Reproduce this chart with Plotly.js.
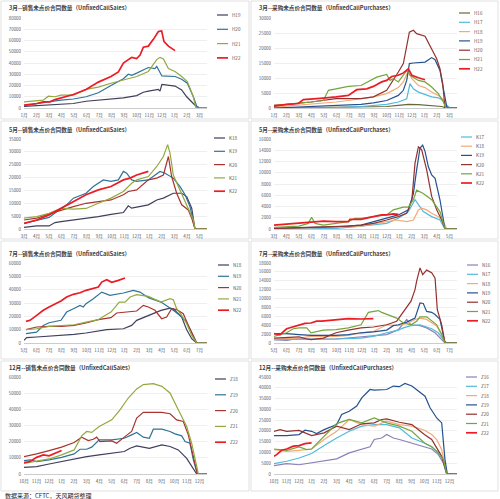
<!DOCTYPE html>
<html><head><meta charset="utf-8">
<script src="https://cdn.plot.ly/plotly-3.0.1.min.js"></script>
<style>html,body{margin:0;padding:0;background:#fff}#chart{width:500px;height:499px}</style>
</head><body><div id="chart"></div>
<script>
// ---------- tick labels ----------
const monthsH = ['1月','2月','3月','4月','5月','6月','7月','8月','9月','10月','11月','12月','1月','2月','3月'];
const monthsK = ['3月','4月','5月','6月','7月','8月','9月','10月','11月','12月','1月','2月','3月','4月','5月'];
const monthsN = ['5月','6月','7月','8月','9月','10月','11月','12月','1月','2月','3月','4月','5月','6月','7月'];
const monthsZ = ['10月','11月','12月','1月','2月','3月','4月','5月','6月','7月','8月','9月','10月','11月','12月'];

// ---------- titles ----------
const titles = [
 '3月--销售未点价合同数量（UnfixedCallSales）','3月--采购未点价合同数量（UnfixedCallPurchases）',
 '5月--销售未点价合同数量（UnfixedCallSales）','5月--采购未点价合同数量（UnfixedCallPurchases）',
 '7月--销售未点价合同数量（UnfixedCallSales）','7月--采购未点价合同数量（UnfixedCallPurchases）',
 '12月--销售未点价合同数量（UnfixedCallSales）','12月--采购未点价合同数量（UnfixedCallPurchases）'];
const sourceText = '数据来源：CFTC，天风期货整理';

// ---------- data: [month index, contracts] ----------
// 3月 sales
const salesH19 = [[0,1500],[1.01,2000],[2,2500],[2.95,3000],[3.94,4000],[4.95,6000],[5.93,7000],[6.94,7500],[7.93,9000],[8.99,11000],[9.52,14000],[9.92,15000],[10.72,16500],[10.85,15000],[11,21000],[12.05,19500],[12.58,16000],[12.98,10000],[13.38,5000],[13.78,1000],[14.04,0],[14.6,0]];
const salesH20 = [[0,2000],[1.01,4000],[1.94,5500],[2.95,7000],[3.94,8000],[4.95,10000],[5.93,13500],[6.94,20000],[7.93,26000],[8.32,30000],[8.59,29000],[8.99,31000],[9.52,34000],[9.92,36000],[10.45,35000],[10.59,37000],[11,28500],[12.05,28000],[12.58,25500],[13.03,22000],[13.51,10000],[13.78,1500],[14.04,0],[14.6,0]];
const salesH21 = [[0,5500],[1.01,6500],[1.54,7000],[1.94,10500],[2.47,10000],[2.95,11500],[3.94,11500],[4.95,16500],[5.93,18500],[6.94,22000],[7.93,25000],[8.99,28000],[9.92,32500],[10.59,43000],[10.85,45000],[11.12,43500],[11.52,35000],[12.05,32500],[12.58,28000],[13.03,23500],[13.51,10000],[13.72,0],[14.6,0]];
const salesH22 = [[0,2500],[1.01,4000],[1.54,5500],[2.07,5500],[2.47,7500],[3,9000],[3.94,12000],[4.95,16500],[5.93,23000],[6.94,28000],[7.53,32000],[7.93,40000],[8.59,45000],[8.99,44000],[9.26,47000],[9.52,54000],[9.92,55000],[10.32,61000],[10.72,68000],[10.98,68500],[11.17,59000],[11.52,55000],[12.05,51000]];
// 3月 purchases
const purH16 = [[0,0],[7.93,300],[8.99,500],[9.92,900],[10.72,1200],[11.52,1100],[12.58,900],[13.38,500],[13.78,0],[14.6,0]];
const purH17 = [[0,0],[4.95,100],[6.94,500],[8.99,1200],[9.92,2000],[10.59,3100],[10.85,8100],[11.12,6400],[11.52,5300],[12.05,4400],[12.58,3700],[13.11,3400],[13.51,2500],[13.78,900],[14.04,0],[14.6,0]];
const purH18 = [[0,300],[2.95,1200],[4.95,2000],[5.93,2500],[6.94,3100],[7.93,3700],[8.99,4800],[9.92,6800],[10.32,8700],[10.72,12500],[11,9800],[11.52,7500],[12.05,6800],[12.58,5300],[13.11,4200],[13.51,2800],[13.78,0],[14.6,0]];
const purH19 = [[0,0],[2.95,500],[4.95,900],[6.94,1200],[7.93,1700],[8.99,2500],[9.92,4200],[10.32,5900],[10.59,9200],[10.8,14800],[11.12,15000],[12.05,15300],[12.58,16800],[12.85,16100],[13.24,12500],[13.51,7000],[13.78,500],[13.91,0],[14.6,0]];
const purH20 = [[0,500],[1.01,1200],[2.95,2000],[4.95,3100],[6.94,3100],[7.93,3700],[8.99,5900],[9.52,9200],[9.92,12000],[10.32,14800],[10.59,21400],[10.8,25300],[11.12,25900],[11.38,24800],[12.05,23900],[12.58,19800],[12.98,16400],[13.24,13100],[13.46,8100],[13.64,0],[14.6,0]];
const purH21 = [[0,900],[1.01,1200],[2.95,2000],[3.94,2500],[4.34,5900],[4.95,6400],[5.93,7200],[6.94,7500],[7.66,9200],[8.19,10300],[8.99,11200],[9.26,9200],[9.52,9800],[9.92,8700],[10.59,12500],[10.85,10900],[11.52,9200],[12.05,8700],[12.58,7000],[13.11,4800],[13.51,2000],[13.72,0],[14.6,0]];
const purH22 = [[0,800],[1.01,1200],[1.94,1500],[2.34,2800],[2.95,2900],[3.94,3300],[4.95,3700],[5.93,4200],[6.6,6100],[7.39,6400],[7.93,7200],[8.59,8700],[8.99,9200],[9.39,10500],[9.92,10900],[10.32,11700],[10.72,13100],[11,10900],[11.52,10100],[12.05,9400]];
// 5月 sales
const salesK18 = [[0,650],[1.01,1200],[2,1200],[2.47,2500],[2.95,2900],[3.94,3500],[4.95,4200],[5.93,4800],[6.94,5700],[7.93,6400],[8.32,9000],[8.59,8100],[8.99,8500],[9.92,9400],[10.59,11300],[11.12,12000],[11.91,13900],[12.58,13900],[12.98,12600],[13.38,8100],[13.64,0],[14.6,0]];
const salesK19 = [[0,2200],[1.01,3500],[2,4500],[2.95,8000],[3.4,9400],[3.94,12000],[4.95,13900],[5.53,16500],[5.93,17800],[6.33,19100],[6.94,18500],[7.53,19100],[7.93,22400],[8.19,21700],[8.59,19100],[8.99,18500],[9.92,19100],[10.85,22400],[11.25,21700],[11.91,19800],[12.45,16500],[12.85,13300],[13.24,8700],[13.51,3500],[13.64,0],[14.6,0]];
const salesK20 = [[0,3500],[1.01,4200],[2,5900],[2.95,7400],[3.94,8700],[4.95,10000],[5.93,10700],[6.94,11300],[7.93,13300],[8.32,14600],[8.99,15200],[9.92,19100],[10.59,19800],[11.12,21000],[11.52,28200],[11.78,20400],[12.18,13900],[12.58,9400],[13.11,7400],[13.38,4200],[13.64,0],[14.6,0]];
const salesK21 = [[0,4200],[1.01,4800],[2,6100],[2.95,8000],[3.94,7700],[4.95,8000],[5.93,10000],[6.94,12000],[7.93,14600],[8.59,17800],[8.99,19100],[9.92,20400],[10.59,24300],[11.12,28200],[11.46,32800],[11.65,29500],[11.91,21000],[12.45,15200],[12.98,9400],[13.51,3500],[13.64,0],[14.6,0]];
const salesK22 = [[0,2200],[1.01,3500],[2,5500],[2.95,8000],[3.94,10700],[4.95,13300],[5.93,15200],[6.94,16500],[7.93,19100],[8.46,19800],[8.99,21000],[9.52,21700],[9.92,22400]];
// 5月 purchases
const purK17 = [[0,0],[4.95,100],[6.94,500],[8.99,1000],[9.92,1900],[10.72,3100],[11.25,5200],[11.52,4300],[11.91,3100],[12.58,2200],[13.24,1600],[13.64,0],[14.6,0]];
const purK18 = [[0,0],[4.95,400],[6.94,500],[7.93,900],[8.99,1300],[9.79,1600],[10.59,1300],[11.12,1600],[11.52,3400],[11.78,3700],[12.18,3400],[12.58,2800],[13.11,2200],[13.51,1300],[13.78,0],[14.6,0]];
const purK19 = [[0,100],[4.95,400],[6.94,700],[7.93,1300],[8.99,1900],[9.92,2500],[10.72,3400],[11.12,6300],[11.38,10500],[11.65,14400],[11.86,14900],[12.05,13800],[12.31,11100],[12.58,9600],[12.85,9000],[13.24,5200],[13.64,0],[14.6,0]];
const purK20 = [[0,100],[3.94,300],[5.93,500],[6.94,700],[7.93,1000],[8.99,1600],[9.92,2200],[10.59,2800],[11,5200],[11.25,11700],[11.52,14600],[11.78,14100],[12.18,10500],[12.58,5800],[12.98,3400],[13.38,1600],[13.64,0],[14.6,0]];
const purK21 = [[0,300],[2,500],[2.74,1000],[3,2100],[3.27,1000],[3.94,700],[4.95,1000],[5.93,1300],[6.46,1900],[6.94,1900],[7.93,2200],[8.99,2500],[9.52,3400],[9.92,3700],[10.32,3900],[10.72,3900],[11.12,5200],[11.38,6900],[11.91,6300],[12.58,5200],[13.24,3100],[13.64,0],[14.6,0]];
const purK22 = [[0,700],[1.01,900],[2.95,1300],[3.94,1400],[4.95,1300],[5.93,1300],[6.06,1700],[6.94,1700],[7.93,2200],[8.59,2500],[8.99,2500],[9.52,2700],[9.92,2600]];
// 7月 sales
const salesN18 = [[0,2000],[0.21,4000],[1.01,4500],[2,5000],[2.95,5700],[4,6500],[4.95,7500],[5.93,8700],[6.6,10000],[7.93,10700],[8.59,13200],[8.99,17000],[9.52,19000],[9.92,20700],[10.59,23200],[10.93,24500],[11.65,26200],[11.91,25700],[12.58,19500],[12.98,10000],[13.38,3200],[13.78,0],[14.6,0]];
const salesN19 = [[0.16,7000],[1.01,8200],[1.54,13200],[2,15200],[2.95,17000],[3.4,23200],[3.94,25700],[4.47,28200],[4.73,27000],[4.95,29500],[5.53,33200],[6.2,38200],[6.86,35700],[7.93,37500],[8.72,39500],[9.26,38200],[9.92,34000],[10.93,30700],[11.91,24500],[12.45,20700],[12.98,15700],[13.38,8200],[13.78,0],[14.6,0]];
const salesN20 = [[0.16,10000],[1.01,12000],[2,12500],[2.95,12500],[4,13200],[4.95,15000],[5.93,17500],[6.94,19000],[7.39,22500],[7.93,23200],[8.99,24000],[9.52,28200],[9.92,27000],[10.45,24500],[10.98,18200],[11.38,19500],[11.78,25700],[12.18,25000],[12.71,22000],[13.11,13200],[13.51,4500],[13.78,0],[14.6,0]];
const salesN21 = [[0.16,10000],[1.01,10700],[2,12500],[2.95,13200],[4,13700],[4.95,15700],[5.93,17500],[6.46,20700],[6.94,23200],[7.6,30700],[8.06,30700],[8.46,34500],[8.99,36200],[9.92,35000],[10.59,32000],[10.93,30700],[11.65,33200],[11.91,32500],[12.18,25700],[12.58,20700],[12.98,14500],[13.38,5700],[13.78,0],[14.6,0]];
const salesN22 = [[0.16,16200],[0.48,17000],[1.01,20700],[1.54,24500],[2,27000],[2.95,31500],[3.4,34500],[3.94,36500],[4.47,37700],[4.95,39500],[5.93,42000],[6.2,45700],[6.6,47500],[7,45500],[7.53,47000],[8.06,48700]];
// 7月 purchases
const purN16 = [[0,750],[1.01,600],[2,1100],[2.95,900],[4.95,900],[6.94,1400],[7.93,1500],[8.99,1900],[9.92,3000],[10.59,5300],[10.93,4100],[11.65,3900],[12.18,3400],[12.85,2300],[13.38,750],[13.64,0],[14.6,0]];
const purN17 = [[0,750],[2,750],[4.95,900],[6.94,1100],[7.93,1500],[8.99,2300],[9.92,2900],[10.32,3400],[10.93,3900],[11.65,4100],[12.18,3600],[12.58,3200],[13.11,2300],[13.51,750],[13.78,0],[14.6,0]];
const purN18 = [[0,900],[2,1100],[2.95,1500],[4.95,1500],[5.93,1700],[6.94,2300],[7.93,2600],[8.99,4100],[9.92,3900],[10.72,4500],[11.25,5300],[11.65,5600],[12.18,5300],[12.58,4500],[12.98,3800],[13.38,1900],[13.64,0],[14.6,0]];
const purN19 = [[0,2100],[1.01,2100],[2,1900],[2.95,1700],[4.95,1700],[5.93,1900],[6.94,2300],[7.93,2500],[8.99,2900],[9.52,3900],[9.92,4100],[10.59,4700],[11.25,5600],[11.65,9000],[11.91,8900],[12.18,7100],[12.58,6900],[12.85,6400],[13.24,5300],[13.51,1500],[13.64,0],[14.6,0]];
const purN20 = [[0,1100],[2,1400],[2.61,900],[2.95,750],[3.94,1100],[4.95,2300],[5.93,2900],[6.94,3400],[7.93,3600],[8.99,4100],[9.79,4900],[10.32,7100],[10.93,9400],[11.25,12000],[11.38,13900],[11.65,16900],[11.86,15400],[12.18,16400],[12.58,15800],[12.85,14600],[13.03,7500],[13.38,4100],[13.64,0],[14.6,0]];
const purN21 = [[0,1500],[1.01,2300],[1.54,3200],[2,3400],[2.61,3400],[2.95,2300],[3.94,2900],[4.95,3000],[5.93,3400],[6.94,4100],[7.53,6900],[8.32,7300],[8.59,6900],[9.26,6200],[9.79,5600],[10.32,4500],[10.93,4100],[11.38,4900],[11.65,5900],[12.18,5900],[12.58,4900],[12.98,4100],[13.38,1900],[13.64,0],[14.6,0]];
const purN22 = [[0,2100],[0.48,1900],[1.01,3200],[1.54,3600],[2,3900],[2.47,4400],[2.95,4500],[3.4,4900],[3.8,4900],[4.47,5100],[4.95,5300],[5.4,5500],[5.93,5500],[6.94,5400],[7.93,5500]];
// 12月 sales
const salesZ18 = [[0,4100],[1.01,4600],[2,6200],[3,7700],[4,9100],[5,10800],[6,11800],[7,12800],[8,13900],[8.46,15900],[8.99,17400],[10,15900],[11,18000],[11.65,17000],[12.31,14900],[12.98,9700],[13.38,4600],[13.78,0],[14.6,0]];
const salesZ19 = [[0,8300],[0.48,8700],[1.01,7700],[2,8700],[3,10300],[4,12400],[4.47,15300],[5,15300],[5.4,16600],[6,21100],[7,21100],[8,22100],[8.59,24200],[8.99,25700],[9.52,22800],[10,22100],[10.32,27700],[11,27700],[11.65,26300],[12.05,24800],[12.58,23600],[12.85,20100],[13.24,19000],[13.51,8700],[13.83,0],[14.6,0]];
const salesZ20 = [[0,10800],[1.01,12400],[2,14500],[3,16600],[4,19500],[4.6,22800],[5.13,20700],[5.53,21500],[5.8,22800],[6.06,20100],[7,20500],[7.39,19000],[8,22800],[8.59,26300],[8.99,34600],[9.52,38100],[10.32,38100],[11,38100],[11.65,37300],[12.18,33500],[12.71,32500],[13.11,24200],[13.51,10800],[13.83,0],[14.6,0]];
const salesZ21 = [[0,6600],[1.01,8100],[2,9300],[3,11800],[4,14900],[4.6,23600],[5,26300],[5.4,25700],[6,29400],[7,33500],[7.66,39700],[8.32,47000],[8.99,52600],[9.52,55300],[10.32,55900],[11,54200],[11.65,50100],[12.18,41800],[12.58,35600],[12.98,29400],[13.38,19000],[13.64,8700],[13.91,0],[14.6,0]];
const salesZ22 = [[0,7000],[0.48,7700],[1.01,10300],[1.54,11800],[2,11200],[2.47,12800],[3,14500]];
// 12月 purchases
const purZ16 = [[0,3900],[1.01,4800],[2,4300],[3,5100],[4,5900],[5,7000],[6,9800],[7,11300],[7.66,12600],[8,16000],[8.59,16700],[8.99,18300],[9.52,16700],[10,16000],[11,14400],[12,12600],[12.58,11600],[13.11,9000],[13.51,5100],[13.78,0],[14.6,0]];
const purZ17 = [[0,4800],[1.01,5900],[2,7400],[3,9500],[4,13200],[5,16700],[6,19800],[7,22200],[8,22900],[8.99,22900],[10,21400],[11,16700],[12,14400],[12.58,12600],[13.11,9800],[13.51,6700],[13.78,0],[14.6,0]];
const purZ18 = [[0,11300],[1.01,10500],[2,11000],[3,11600],[4,16000],[5,19800],[6,25300],[7,22900],[8,22200],[8.99,24500],[10,22900],[11,22200],[12,20300],[12.58,18300],[12.98,16000],[13.38,11300],[13.78,0],[14.6,0]];
const purZ19 = [[0,17800],[1.01,17800],[2,18300],[2.47,20300],[3,19800],[3.4,18800],[4,20600],[5,22900],[5.4,27600],[6,29100],[6.6,31500],[7,35300],[7.66,39200],[8,38900],[8.99,39200],[9.52,40800],[10,40500],[10.45,42000],[11,40800],[11.65,37700],[12.05,36100],[12.45,30700],[12.98,26000],[13.38,23700],[13.64,6700],[13.83,0],[14.6,0]];
const purZ20 = [[0,19800],[0.48,20600],[1.01,19800],[2,20200],[3,17800],[4,19100],[5,22200],[6,20600],[7,23300],[8,23700],[8.59,25300],[8.99,25600],[10,24000],[11,22900],[12,18300],[12.58,16000],[12.98,12100],[13.38,8200],[13.78,0],[14.6,0]];
const purZ21 = [[0,11600],[1.01,11000],[2,12600],[2.61,11300],[3,11600],[4,17500],[5,23400],[6,25300],[7,23700],[8,26000],[8.99,23700],[10,22200],[11,19800],[12,14400],[12.58,12600],[13.11,9800],[13.51,6700],[13.78,0],[14.6,0]];
const purZ22 = [[0,8200],[0.21,9000],[0.61,11000],[1.01,11600],[1.54,12900],[2,13200],[2.47,14100],[3,14400]];

// ---------- styles ----------
const C = {navy:'#3f3f5e', teal:'#2f7398', dred:'#a8342f', olive:'#93a93f', red:'#ec1c24',
           dolive:'#66683a', lblue:'#52b9dc', orange:'#f4a977', dblue:'#25528f', brown:'#93312f',
           green:'#72a63c', purple:'#8e80b6'};

const panels = [
 {months:monthsH, ymax:80000, dtick:10000, series:[['H19',salesH19,C.navy],['H20',salesH20,C.teal],['H21',salesH21,C.olive],['H22',salesH22,C.red]],
  box:[24,207,18,108], lg:[217,15,14.3]},
 {months:monthsH, ymax:30000, dtick:5000, series:[['H16',purH16,C.dolive],['H17',purH17,C.lblue],['H18',purH18,C.orange],['H19',purH19,C.dblue],['H20',purH20,C.brown],['H21',purH21,C.green],['H22',purH22,C.red]],
  box:[274,457,18,108], lg:[459,13,9.3]},
 {months:monthsK, ymax:35000, dtick:5000, series:[['K18',salesK18,C.navy],['K19',salesK19,C.teal],['K20',salesK20,C.dred],['K21',salesK21,C.olive],['K22',salesK22,C.red]],
  box:[24,207,139,229], lg:[214,138,13.3]},
 {months:monthsK, ymax:16000, dtick:2000, series:[['K17',purK17,C.lblue],['K18',purK18,C.orange],['K19',purK19,C.dblue],['K20',purK20,C.brown],['K21',purK21,C.green],['K22',purK22,C.red]],
  box:[274,457,139,229], lg:[461,137,9.2]},
 {months:monthsN, ymax:60000, dtick:10000, series:[['N18',salesN18,C.navy],['N19',salesN19,C.teal],['N20',salesN20,C.dred],['N21',salesN21,C.olive],['N22',salesN22,C.red]],
  box:[24,207,263,343], lg:[218,265,11.3]},
 {months:monthsN, ymax:18000, dtick:2000, series:[['N16',purN16,C.purple],['N17',purN17,C.lblue],['N18',purN18,C.orange],['N19',purN19,C.dblue],['N20',purN20,C.brown],['N21',purN21,C.green],['N22',purN22,C.red]],
  box:[274,457,263,343], lg:[467,265,9.3]},
 {months:monthsZ, ymax:60000, dtick:10000, series:[['Z18',salesZ18,C.navy],['Z19',salesZ19,C.teal],['Z20',salesZ20,C.dred],['Z21',salesZ21,C.olive],['Z22',salesZ22,C.red]],
  box:[24,207,377,474], lg:[215,379,15.8]},
 {months:monthsZ, ymax:45000, dtick:5000, series:[['Z16',purZ16,C.purple],['Z17',purZ17,C.lblue],['Z18',purZ18,C.orange],['Z19',purZ19,C.dblue],['Z20',purZ20,C.brown],['Z21',purZ21,C.green],['Z22',purZ22,C.red]],
  box:[274,457,377,474], lg:[466,377,9.3]}
];

const W = 500, H = 499;
const FONT = 'Noto Sans CJK SC, Noto Sans, sans-serif';
const traces = [];
const layout = {width:W, height:H, margin:{l:0,r:0,t:0,b:0}, paper_bgcolor:'#fff', plot_bgcolor:'#fff',
  showlegend:false, annotations:[], shapes:[], font:{family:FONT}};

// panel frames
const frames = [[1,249,1,119],[251,498,1,119],[1,249,121,239],[251,498,121,239],[1,249,241,359],[251,498,241,359],[1,249,361,491],[251,498,361,491]];
frames.forEach(f => layout.shapes.push({type:'rect', xref:'paper', yref:'paper', x0:f[0]/W, x1:f[1]/W, y0:1-f[3]/H, y1:1-f[2]/H, line:{color:'#d9d9d9', width:0.8}, layer:'below'}));

panels.forEach((p, i) => {
  const n = i + 1, xa = 'x' + (n === 1 ? '' : n), ya = 'y' + (n === 1 ? '' : n);
  const [x0, x1, yt, yb] = p.box;
  layout['xaxis' + (n === 1 ? '' : n)] = {domain:[x0/W, x1/W], range:[0, 14.6], anchor:ya,
    tickvals:p.months.map((_, k) => k), ticktext:p.months, showgrid:false, zeroline:false,
    showline:true, linecolor:'#bfbfbf', linewidth:0.8, ticks:'', ticklabelstandoff:3,
    tickfont:{size:4.6, color:'#595959', family:FONT}, fixedrange:true};
  layout['yaxis' + (n === 1 ? '' : n)] = {domain:[1 - yb/H, 1 - yt/H], range:[0, p.ymax], anchor:xa,
    dtick:p.dtick, tick0:0, tickformat:'d', showgrid:true, gridcolor:'#e4e4e4', gridwidth:0.6,
    zeroline:false, showline:false, ticks:'', ticklabelstandoff:2,
    tickfont:{size:4.4, color:'#595959', family:FONT}, fixedrange:true};
  p.series.forEach(([name, pts, color]) => {
    const isCur = name.endsWith('22');
    traces.push({type:'scatter', mode:'lines', name:name, xaxis:xa, yaxis:ya,
      x:pts.map(q => q[0]), y:pts.map(q => q[1]),
      line:{color:color, width:isCur ? 1.7 : 1.2}, hoverinfo:'skip'});
  });
  // title
  layout.annotations.push({text:titles[i], xref:'paper', yref:'paper', x:(i % 2 ? 257 : 7)/W,
    y:1 - (yt - 9.5)/H, xanchor:'left', yanchor:'middle', showarrow:false,
    font:{size:5.6, color:'#404040', family:FONT, weight:700}});
  // legend
  const [lx, ly, ls] = p.lg;
  p.series.forEach(([name, pts, color], k) => {
    const yy = 1 - (ly + k*ls)/H;
    layout.shapes.push({type:'line', xref:'paper', yref:'paper', x0:lx/W, x1:(lx+11)/W, y0:yy, y1:yy,
      line:{color:color, width:name.endsWith('22') ? 1.7 : 1.2}});
    layout.annotations.push({text:name, xref:'paper', yref:'paper', x:(lx+13)/W, y:yy,
      xanchor:'left', yanchor:'middle', showarrow:false, font:{size:4.6, color:'#595959', family:FONT}});
  });
});

layout.annotations.push({text:sourceText, xref:'paper', yref:'paper', x:3/W, y:1 - 495.5/H,
  xanchor:'left', yanchor:'middle', showarrow:false, font:{size:6, color:'#222', family:FONT}});

Plotly.newPlot('chart', traces, layout, {staticPlot:true, displayModeBar:false});
</script></body></html>
